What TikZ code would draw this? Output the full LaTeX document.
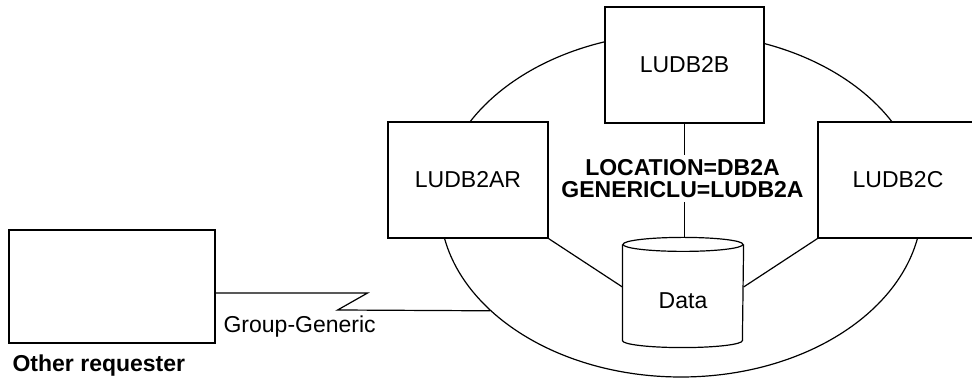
\documentclass[tikz,border=0pt]{standalone}
\usepackage{fontspec}
\setmainfont{Liberation Sans}
\usepackage{tikz}
\usetikzlibrary{shapes}
\newcommand{\lblfont}{\fontsize{23}{22}\selectfont}

\begin{document}
\begin{tikzpicture}[
  x=1pt, y=1pt, line width=1.2pt,
  sysbox/.style={draw, fill=white, minimum width=160pt, minimum height=116pt, inner sep=0pt, font=\lblfont},
  lbl/.style={font=\lblfont, inner sep=0pt}
]
  \useasboundingbox (0,0) rectangle (972,379);
  % the generic group
  \node[ellipse, draw, minimum width=482pt, minimum height=344pt, inner sep=0pt] (ring) at (681,174) {};
  \node[sysbox] (ar) at (468,199) {LUDB2AR};
  \node[sysbox, minimum width=159pt] (b) at (684.5,314) {LUDB2B};
  \node[sysbox] (c) at (898,199) {LUDB2C};
  % shared data
  \node[lbl, minimum width=120pt, minimum height=109pt, text height=32pt] (data) at (683,86.5) {Data};
  \draw ([yshift=-7pt]data.north west) -- ([yshift=7pt]data.south west)
    arc[start angle=180, end angle=360, x radius=60pt, y radius=7pt]
    -- ([yshift=-7pt]data.north east);
  \draw ([yshift=-7pt]data.north) ellipse[x radius=60pt, y radius=7pt];
  \draw (ar.south east) -- ([yshift=5.5pt]data.west);
  \draw (c.south west) -- ([yshift=5.5pt]data.east);
  \draw (b.south) -- (b.south |- data.north);
  \node[lbl, font=\lblfont\bfseries, fill=white, align=center, inner sep=4pt] (loc) at (682.5,200.5) {LOCATION=DB2A\\GENERICLU=LUDB2A};
  % requester and its link
  \node[draw, minimum width=206pt, minimum height=113pt, inner sep=0pt] (req) at (112,92.5) {};
  \node[lbl, font=\lblfont\bfseries, anchor=base west] (reqname) at (12,7) {Other requester};
  \draw ([yshift=-6.5pt]req.east) -- ++(152,0) -- ++(-30,-17) -- (ring.209);
  \node[lbl, anchor=base west] (gg) at (223,46) {Group-Generic};
\end{tikzpicture}
\end{document}
